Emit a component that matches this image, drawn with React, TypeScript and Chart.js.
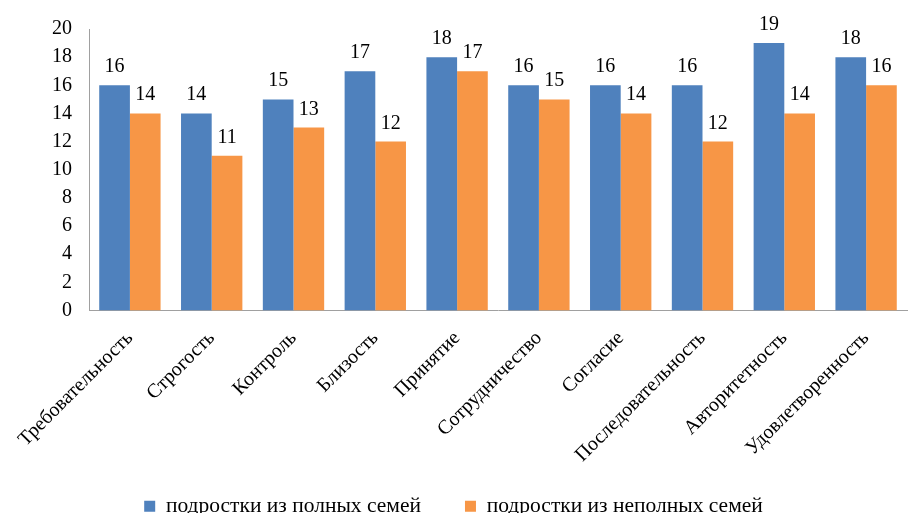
import React, { useEffect, useRef } from "react";
import { Chart, registerables } from "chart.js";

Chart.register(...registerables);

const categories = [
  "Требовательность",
  "Строгость",
  "Контроль",
  "Близость",
  "Принятие",
  "Сотрудничество",
  "Согласие",
  "Последовательность",
  "Авторитетность",
  "Удовлетворенность",
];
const fullFamilies = [16, 14, 15, 17, 18, 16, 16, 16, 19, 18];
const incompleteFamilies = [14, 11, 13, 12, 17, 15, 14, 12, 14, 16];
const seriesNames = ["подростки из полных семей", "подростки из неполных семей"];

const W = 908;
const H = 527;
const LEGEND_H = 80;
const AREA_BOTTOM = 306;
const FONT = "'Liberation Serif', 'Times New Roman', serif";

const valueLabels = {
  id: "valueLabels",
  afterDatasetsDraw(chart: any) {
    const ctx = chart.ctx;
    ctx.save();
    ctx.font = `20px ${FONT}`;
    ctx.fillStyle = "#000";
    ctx.textAlign = "center";
    ctx.textBaseline = "alphabetic";
    chart.data.datasets.forEach((ds: any, di: number) => {
      const meta = chart.getDatasetMeta(di);
      meta.data.forEach((el: any, i: number) => {
        ctx.fillText(String(ds.data[i]), el.x, el.y - 13);
      });
    });
    ctx.restore();
  },
};

export default function App() {
  const ref = useRef<HTMLCanvasElement>(null);
  useEffect(() => {
    document.body.style.margin = "0";
    const chart = new Chart(ref.current!, {
      type: "bar",
      data: {
        labels: categories,
        datasets: [
          {
            label: seriesNames[0],
            data: fullFamilies,
            backgroundColor: "#4F81BD",
            categoryPercentage: 0.75,
            barPercentage: 1,
          },
          {
            label: seriesNames[1],
            data: incompleteFamilies,
            backgroundColor: "#F79646",
            categoryPercentage: 0.75,
            barPercentage: 1,
          },
        ],
      },
      options: {
        responsive: false,
        animation: false,
        layout: { padding: { top: 27, right: 1, left: 0, bottom: 0 } },
        plugins: {
          tooltip: { enabled: false },
          legend: {
            position: "bottom",
            labels: {
              boxWidth: 11,
              boxHeight: 11,
              padding: 44,
              color: "#000",
              font: { family: FONT, size: 21.5 },
            },
          },
        },
        scales: {
          x: {
            grid: { display: false, drawTicks: false },
            border: { display: true, color: "#a0a0a0" },
            ticks: {
              autoSkip: false,
              maxRotation: 45,
              minRotation: 45,
              padding: 16,
              color: "#000",
              font: { family: FONT, size: 20 },
            },
            afterFit(scale: any) {
              scale.height = H - AREA_BOTTOM - LEGEND_H;
              scale._computeLabelArea = () => undefined;
            },
          },
          y: {
            min: 0,
            max: 20,
            grid: { display: false, drawTicks: false },
            border: { display: true, color: "#a0a0a0" },
            ticks: {
              stepSize: 2,
              padding: 17,
              color: "#000",
              font: { family: FONT, size: 20 },
            },
            afterFit(scale: any) {
              scale.width = 89;
            },
          },
        },
      },
      plugins: [valueLabels],
    });
    return () => chart.destroy();
  }, []);
  return (
    <div style={{ position: "fixed", left: 0, top: 0, width: W, height: 513, overflow: "hidden" }}>
      <canvas ref={ref} width={W} height={H} style={{ width: W, height: H }} />
    </div>
  );
}
